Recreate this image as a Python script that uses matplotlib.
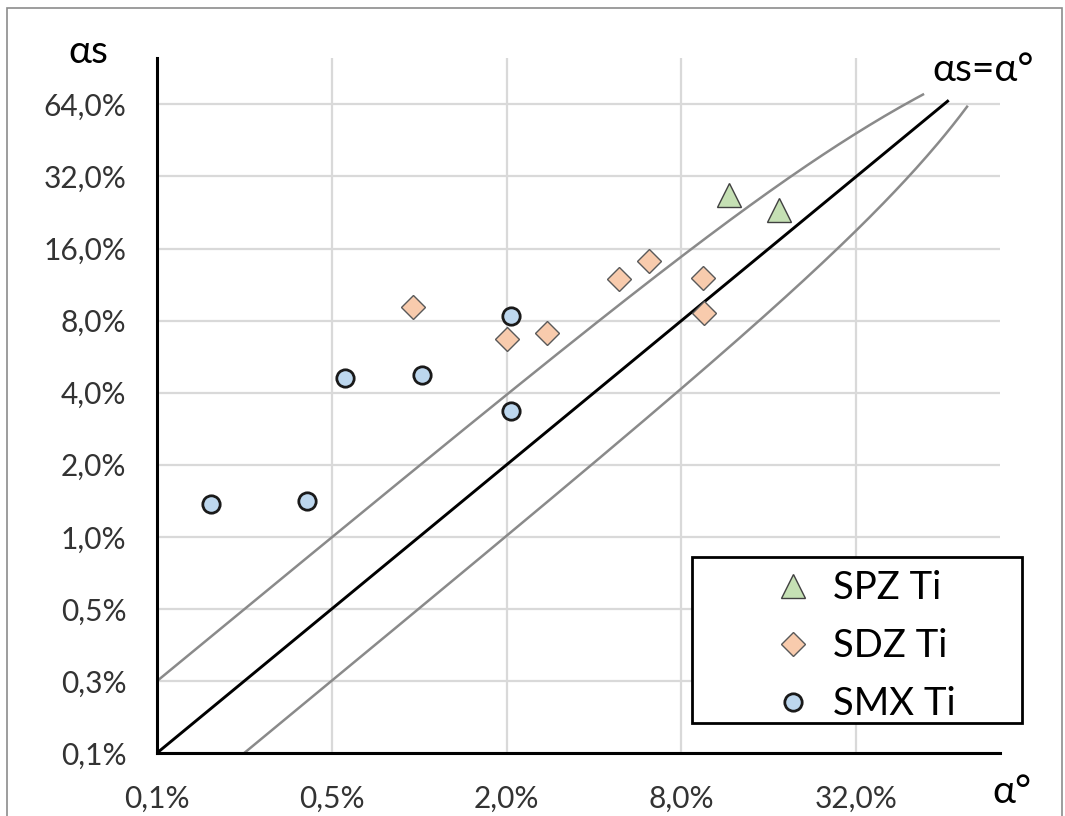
import numpy as np
import matplotlib
matplotlib.use("Agg")
import matplotlib.pyplot as plt
from matplotlib.ticker import FixedLocator, FixedFormatter
from matplotlib.lines import Line2D
from matplotlib.patches import Rectangle

plt.rcParams['font.family'] = ['Lato', 'DejaVu Sans']

# ---- data (percent) ----
spz_x = [11.7, 17.3]
spz_y = [26.8, 23.2]

sdz_x = [0.95, 2.0, 2.75, 4.89, 6.2, 9.47, 9.59]
sdz_y = [9.09, 6.68, 7.12, 11.9, 14.2, 12.1, 8.63]

smx_x = [0.192, 0.41, 0.555, 1.02, 2.07, 2.07]
smx_y = [1.37, 1.41, 4.59, 4.74, 8.36, 3.36]

series_names = ["SPZ Ti", "SDZ Ti", "SMX Ti"]

x_ticks = [0.125, 0.5, 2.0, 8.0, 32.0]
x_tick_labels = ["0,1%", "0,5%", "2,0%", "8,0%", "32,0%"]
y_ticks = [0.125, 0.25, 0.5, 1.0, 2.0, 4.0, 8.0, 16.0, 32.0, 64.0]
y_tick_labels = ["0,1%", "0,3%", "0,5%", "1,0%", "2,0%", "4,0%", "8,0%",
                 "16,0%", "32,0%", "64,0%"]

# identity line and odds-ratio guide curves (factor 2 up / down)
diag_range = [0.125, 66.0]
odds_factor = 2.0
upper_range = [0.125, 54.3]
lower_range = [0.25, 77.0]

# ---- figure ----
W, H = 1065, 816
fig = plt.figure(figsize=(W / 100, H / 100), dpi=100)
fig.patch.set_facecolor("white")
fig.patches.append(Rectangle((7 / W, -0.05), (1062 - 7) / W, (H - 8) / H + 0.05,
                             transform=fig.transFigure, fill=False,
                             edgecolor="#8c8c8c", linewidth=1.2, zorder=0))

ax = fig.add_axes([157 / W, 63 / H, 843 / W, 695 / H])
ax.set_xscale("log", base=2)
ax.set_yscale("log", base=2)
ax.set_xlim(0.125, 100)
ax.set_ylim(0.125, 100)

ax.xaxis.set_major_locator(FixedLocator(x_ticks))
ax.xaxis.set_major_formatter(FixedFormatter(x_tick_labels))
ax.yaxis.set_major_locator(FixedLocator(y_ticks))
ax.yaxis.set_major_formatter(FixedFormatter(y_tick_labels))
ax.xaxis.set_minor_locator(FixedLocator([]))
ax.yaxis.set_minor_locator(FixedLocator([]))

ax.tick_params(axis="both", length=0, labelsize=21.5, labelcolor="#333333")
ax.tick_params(axis="y", pad=22)
ax.tick_params(axis="x", pad=23)

ax.grid(True, color="#d9d9d9", linewidth=1.6, zorder=0)
for s in ["top", "right"]:
    ax.spines[s].set_visible(False)
for s in ["left", "bottom"]:
    ax.spines[s].set_color("black")
    ax.spines[s].set_linewidth(2.2)
    ax.spines[s].set_zorder(3)

# guide lines
ax.plot(diag_range, diag_range, color="black", linewidth=2.1, zorder=2)
xu = np.geomspace(upper_range[0], upper_range[1], 200)
ax.plot(xu, odds_factor * xu / (1 + (odds_factor - 1) * xu / 100),
        color="#8a8a8a", linewidth=1.8, zorder=2)
xl = np.geomspace(lower_range[0], lower_range[1], 200)
ax.plot(xl, xl / (odds_factor - (odds_factor - 1) * xl / 100),
        color="#8a8a8a", linewidth=1.8, zorder=2)

# marker styles
tri_style = dict(marker="^", markersize=17.5, markerfacecolor="#c5e0b4",
                 markeredgecolor="#404040", markeredgewidth=1.0)
dia_style = dict(marker="D", markersize=12.5, markerfacecolor="#f8cbad",
                 markeredgecolor="#595959", markeredgewidth=1.0)
cir_style = dict(marker="o", markersize=12.5, markerfacecolor="#bdd7ee",
                 markeredgecolor="#1a1a1a", markeredgewidth=2.0)

# data points
ax.plot(spz_x, spz_y, linestyle="none", zorder=4, clip_on=False, **tri_style)
ax.plot(sdz_x, sdz_y, linestyle="none", zorder=4, clip_on=False, **dia_style)
ax.plot(smx_x, smx_y, linestyle="none", zorder=4, clip_on=False, **cir_style)

# axis titles
fig.text(88 / W, 1 - 52 / H, "αs", fontsize=28, ha="center", va="center",
         color="black")
fig.text(1012 / W, 1 - 792 / H, "α°", fontsize=28, ha="center", va="center",
         color="black")
fig.text(983 / W, 1 - 70 / H, "αs=α°", fontsize=28, ha="center", va="center",
         color="black")

# legend frame
fig.patches.append(Rectangle((692 / W, 1 - 723 / H), (1022 - 692) / W,
                             (723 - 557) / H, transform=fig.transFigure,
                             fill=True, facecolor="white", edgecolor="black",
                             linewidth=2.0, zorder=5))
handles = [
    Line2D([], [], linestyle="none", **tri_style),
    Line2D([], [], linestyle="none", **dia_style),
    Line2D([], [], linestyle="none", **cir_style),
]
leg = fig.legend(handles, series_names, loc="upper left",
                 bbox_to_anchor=(770 / W, 1 - 570 / H),
                 bbox_transform=fig.transFigure, frameon=False,
                 fontsize=27.5, borderpad=0, borderaxespad=0,
                 handlelength=1.2, handletextpad=0.45, labelspacing=0.58,
                 numpoints=1)
leg.set_zorder(6)

fig.savefig("out.png", dpi=100, facecolor="white")
